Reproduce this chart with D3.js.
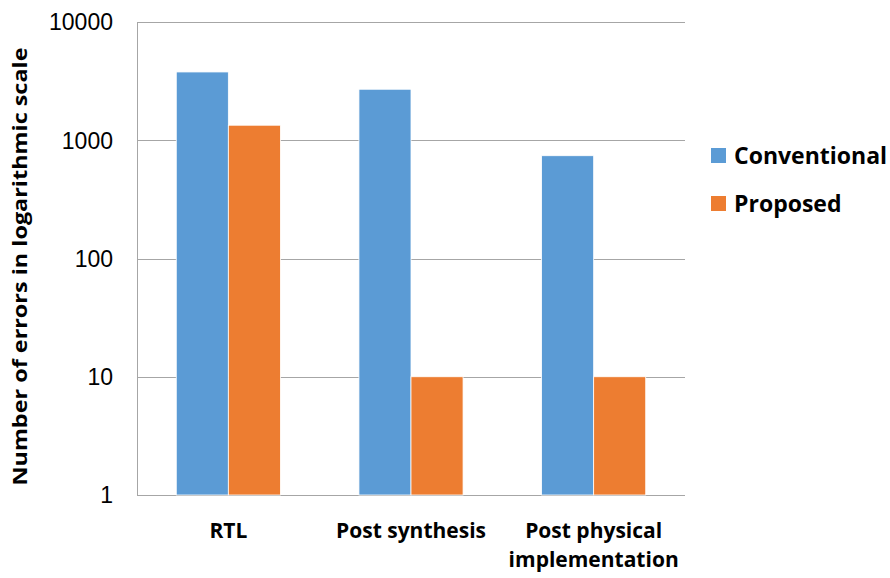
<!DOCTYPE html>
<html>
<head>
<meta charset="utf-8">
<script src="https://cdn.jsdelivr.net/npm/d3@7"></script>
<style>
  body { margin: 0; background: #fff; }
  svg { display: block; }
</style>
</head>
<body>
<div id="chart"></div>
<script>
const categories = ["RTL", "Post synthesis", "Post physical implementation"];
const seriesNames = ["Conventional", "Proposed"];
const conventional = [3780, 2700, 740];
const proposed = [1340, 10, 10];
const tickValues = [1, 10, 100, 1000, 10000];

const colors = ["#5B9BD5", "#ED7D31"];
const width = 890, height = 578;
const margin = { top: 22, left: 137, right: 205, bottom: 83 };

const svg = d3.select("#chart").append("svg")
    .attr("width", width)
    .attr("height", height);

const x0 = d3.scaleBand()
    .domain(categories)
    .range([margin.left, width - margin.right])
    .paddingInner(0.43)
    .paddingOuter(0.215);

const x1 = d3.scaleBand()
    .domain(seriesNames)
    .range([0, x0.bandwidth()]);

const y = d3.scaleLog()
    .domain([1, 10000])
    .range([height - margin.bottom, margin.top]);

// gridlines
svg.append("g")
    .selectAll("line")
    .data(tickValues)
    .join("line")
    .attr("x1", margin.left)
    .attr("x2", width - margin.right)
    .attr("y1", d => Math.round(y(d)) + 0.5)
    .attr("y2", d => Math.round(y(d)) + 0.5)
    .attr("stroke", "#a6a6a6")
    .attr("stroke-width", 1);

// left axis line
svg.append("line")
    .attr("x1", margin.left + 0.5)
    .attr("x2", margin.left + 0.5)
    .attr("y1", y(10000))
    .attr("y2", y(1))
    .attr("stroke", "#a6a6a6");

// tick labels
svg.append("g")
    .selectAll("text")
    .data(tickValues)
    .join("text")
    .attr("x", margin.left - 24)
    .attr("y", d => y(d))
    .attr("dy", "0.36em")
    .attr("text-anchor", "end")
    .attr("font-family", "Liberation Sans, Arial, sans-serif")
    .attr("font-size", 23)
    .attr("fill", "#000")
    .text(d => d);

// bars
const rows = categories.map((c, i) => ({ cat: c, values: [conventional[i], proposed[i]] }));

svg.append("g")
    .selectAll("g")
    .data(rows)
    .join("g")
    .attr("transform", d => `translate(${x0(d.cat)},0)`)
    .selectAll("rect")
    .data(d => d.values.map((v, j) => ({ name: seriesNames[j], v, j })))
    .join("rect")
    .attr("x", d => x1(d.name))
    .attr("width", x1.bandwidth())
    .attr("y", d => y(d.v))
    .attr("height", d => y(1) - y(d.v))
    .attr("fill", d => colors[d.j])
    .attr("stroke", "#fff")
    .attr("stroke-width", 0.8);

// category labels
const catLines = [["RTL"], ["Post synthesis"], ["Post physical", "implementation"]];
const catG = svg.append("g")
    .selectAll("text")
    .data(categories)
    .join("text")
    .attr("x", d => x0(d) + x0.bandwidth() / 2)
    .attr("y", 538)
    .attr("text-anchor", "middle")
    .attr("font-family", "Open Sans, sans-serif")
    .attr("font-weight", "bold")
    .attr("font-size", 21)
    .attr("fill", "#000");

catG.selectAll("tspan")
    .data((d, i) => catLines[i])
    .join("tspan")
    .attr("x", function () { return this.parentNode.getAttribute("x"); })
    .attr("dy", (d, i) => i === 0 ? 0 : 29)
    .text(d => d);

// y axis title
svg.append("text")
    .attr("transform", `translate(27,${(y(1) + y(10000)) / 2 + 8}) rotate(-90)`)
    .attr("text-anchor", "middle")
    .attr("font-family", "Open Sans, sans-serif")
    .attr("font-weight", "bold")
    .attr("font-size", 19)
    .attr("textLength", 438)
    .attr("lengthAdjust", "spacingAndGlyphs")
    .attr("fill", "#000")
    .text("Number of errors in logarithmic scale");

// legend
const legend = svg.append("g")
    .selectAll("g")
    .data(seriesNames)
    .join("g")
    .attr("transform", (d, i) => `translate(711,${148 + i * 48})`);

legend.append("rect")
    .attr("width", 15)
    .attr("height", 15)
    .attr("fill", (d, i) => colors[i]);

legend.append("text")
    .attr("x", 23)
    .attr("y", 16)
    .attr("font-family", "Open Sans, sans-serif")
    .attr("font-weight", "bold")
    .attr("font-size", 23)
    .attr("fill", "#000")
    .text(d => d);
</script>
</body>
</html>
